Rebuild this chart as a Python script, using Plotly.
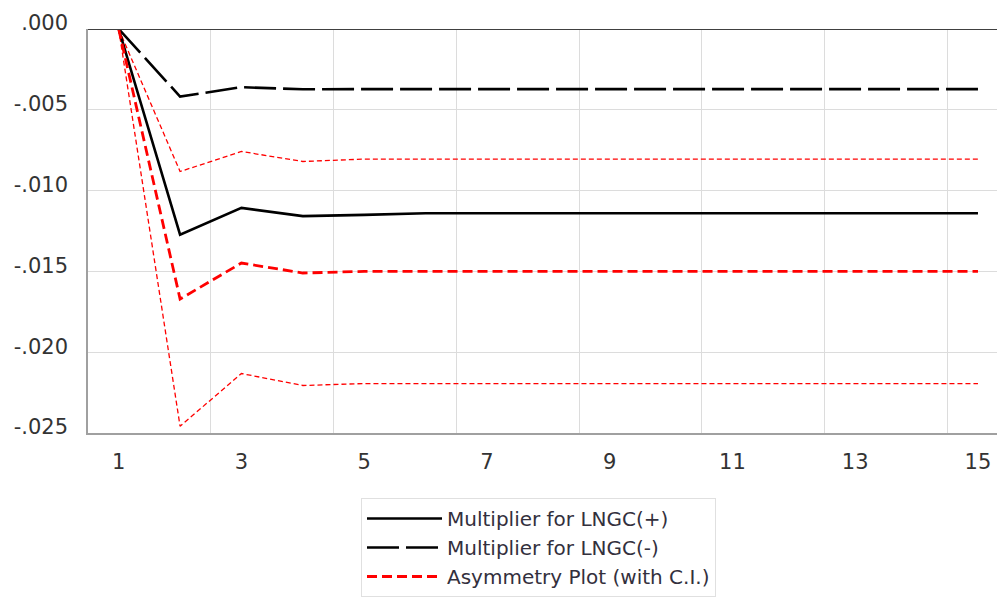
import plotly.graph_objects as go

periods = list(range(1, 16))
mult_pos = [0.0, -0.01273, -0.01107, -0.01158, -0.0115, -0.0114, -0.0114, -0.0114, -0.0114, -0.0114, -0.0114, -0.0114, -0.0114, -0.0114, -0.0114]
mult_neg = [0.0, -0.00418, -0.0036, -0.00373, -0.00372, -0.00372, -0.00372, -0.00372, -0.00372, -0.00372, -0.00372, -0.00372, -0.00372, -0.00372, -0.00372]
asym = [0.0, -0.01671, -0.01448, -0.0151, -0.0150, -0.0150, -0.0150, -0.0150, -0.0150, -0.0150, -0.0150, -0.0150, -0.0150, -0.0150, -0.0150]
ci_upper = [0.0, -0.00882, -0.00758, -0.0082, -0.00805, -0.00805, -0.00805, -0.00805, -0.00805, -0.00805, -0.00805, -0.00805, -0.00805, -0.00805, -0.00805]
ci_lower = [0.0, -0.02458, -0.02132, -0.02206, -0.02194, -0.02194, -0.02194, -0.02194, -0.02194, -0.02194, -0.02194, -0.02194, -0.02194, -0.02194, -0.02194]

x_ticks = [1, 3, 5, 7, 9, 11, 13, 15]
y_ticks = [0, -0.005, -0.010, -0.015, -0.020, -0.025]
y_labels = [".000", "-.005", "-.010", "-.015", "-.020", "-.025"]

fig = go.Figure()
fig.add_trace(go.Scatter(x=periods, y=ci_upper, mode="lines", showlegend=False,
                         line=dict(color="#ff0000", width=1.3, dash="5px,3px")))
fig.add_trace(go.Scatter(x=periods, y=ci_lower, mode="lines", showlegend=False,
                         line=dict(color="#ff0000", width=1.3, dash="5px,3px")))
fig.add_trace(go.Scatter(x=periods, y=mult_pos, mode="lines", name="Multiplier for LNGC(+)",
                         line=dict(color="#000000", width=2.6)))
fig.add_trace(go.Scatter(x=periods, y=mult_neg, mode="lines", name="Multiplier for LNGC(-)",
                         line=dict(color="#000000", width=2.6, dash="32px,7px")))
fig.add_trace(go.Scatter(x=periods, y=asym, mode="lines", name="Asymmetry Plot (with C.I.)",
                         line=dict(color="#ff0000", width=2.8, dash="10px,5px")))

fig.update_layout(
    width=997, height=600,
    margin=dict(l=88, r=0, t=29, b=167, autoexpand=False),
    paper_bgcolor="white", plot_bgcolor="white",
    font=dict(family="DejaVu Sans, sans-serif", size=21, color="#333333"),
    xaxis=dict(range=[0.5, 15.31], tickvals=x_ticks, ticktext=[str(v) for v in x_ticks],
               showgrid=False, zeroline=False, showline=True, linecolor="#a0a0a0", linewidth=1.5,
               ticks="", ticklabelstandoff=9,
               minor=dict(tickvals=[2.5, 4.5, 6.5, 8.5, 10.5, 12.5, 14.5], showgrid=True,
                          gridcolor="#dcdcdc", gridwidth=1, ticks="")),
    yaxis=dict(range=[-0.025, 0], tickvals=y_ticks, ticktext=y_labels,
               showgrid=True, gridcolor="#dcdcdc", gridwidth=1,
               zeroline=False, showline=True, linecolor="#a0a0a0", linewidth=1.5,
               ticks="", ticklabelstandoff=14, ticklabelshift=-6),
    legend=dict(x=(361 - 88) / 909, y=-(498 - 433) / 404, xanchor="left", yanchor="top",
                bgcolor="white", bordercolor="#e0e0e0", borderwidth=1,
                font=dict(family="DejaVu Sans, sans-serif", size=20, color="#33303d"),
                itemwidth=75, tracegroupgap=0),
)
fig.add_shape(type="line", xref="paper", yref="y", x0=0, x1=1, y0=0, y1=0,
              line=dict(color="#404040", width=2))

fig.write_html("out.html")
